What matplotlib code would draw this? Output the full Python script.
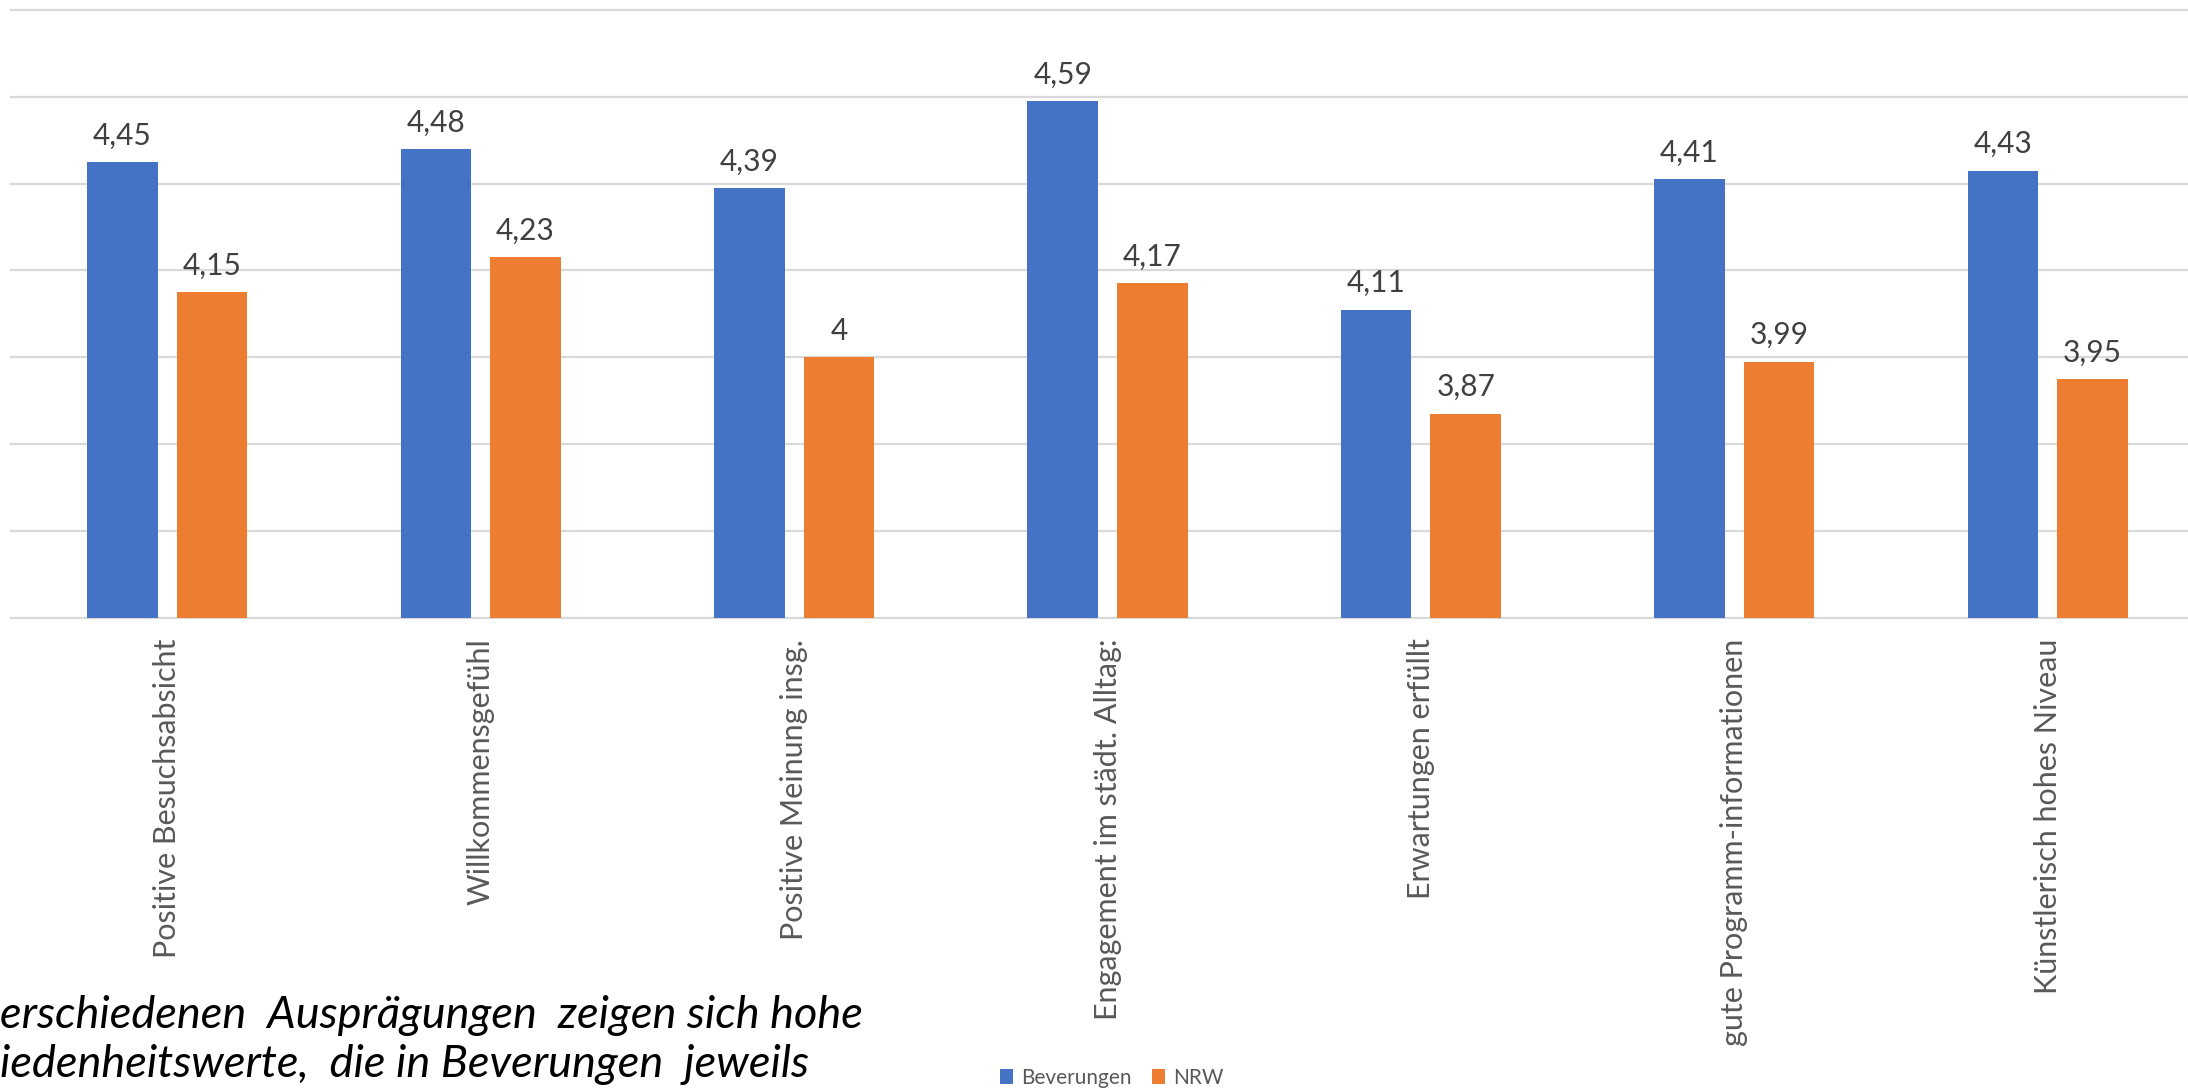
import numpy as np
import matplotlib
matplotlib.use("Agg")
import matplotlib.pyplot as plt

# --- data ---
categories = [
    "Positive Besuchsabsicht",
    "Willkommensgefühl",
    "Positive Meinung insg.",
    "Engagement im städt. Alltag:",
    "Erwartungen erfüllt",
    "gute Programm-informationen",
    "Künstlerisch hohes Niveau",
]
beverungen = [4.45, 4.48, 4.39, 4.59, 4.11, 4.41, 4.43]
nrw = [4.15, 4.23, 4.00, 4.17, 3.87, 3.99, 3.95]
series_names = ["Beverungen", "NRW"]

BLUE = "#4472C4"
ORANGE = "#ED7D31"
GRID = "#D9D9D9"

plt.rcParams["font.family"] = ["Lato", "DejaVu Sans"]

W, H = 2188, 1091
fig = plt.figure(figsize=(W / 100, H / 100), dpi=100)
ax = fig.add_axes([10.6 / W, 473.3 / H, 2193.8 / W, 607.7 / H])

x = np.arange(len(categories))
bw = 0.225
off = 0.143
b1 = ax.bar(x - off, beverungen, bw, color=BLUE, label=series_names[0], zorder=3)
b2 = ax.bar(x + off, nrw, bw, color=ORANGE, label=series_names[1], zorder=3)


def fmt(v):
    s = f"{v:.2f}".rstrip("0").rstrip(".")
    return s.replace(".", ",")


for bars, vals in ((b1, beverungen), (b2, nrw)):
    for rect, v in zip(bars, vals):
        ax.annotate(fmt(v), (rect.get_x() + rect.get_width() / 2, v),
                    xytext=(0, 9), textcoords="offset points",
                    ha="center", va="bottom", fontsize=21.5, color="#404040")

ax.set_xlim(-0.5, len(categories) - 0.5)
ax.set_ylim(3.4, 4.8)
ax.set_yticks(np.arange(3.4, 4.81, 0.2))
ax.yaxis.grid(True, color=GRID, linewidth=1.6, zorder=0)
for gl in ax.yaxis.get_gridlines():
    gl.set_clip_on(False)
ax.set_axisbelow(True)
ax.tick_params(axis="y", length=0, labelleft=False)
ax.set_xticks(x)
ax.set_xticklabels(categories, rotation=90, fontsize=22, color="#595959", va="top")
ax.tick_params(axis="x", length=0, pad=15)
for sp in ax.spines.values():
    sp.set_visible(False)

fig.legend(handles=[b1, b2], labels=series_names, loc="center",
           bbox_to_anchor=(1112 / W, 1 - 1078 / H), ncol=2, frameon=False,
           fontsize=15, labelcolor="#595959", handlelength=0.6, handleheight=0.7,
           handletextpad=0.4, columnspacing=1.0)

# overlaid slide text (cut off at the left and bottom edge)
fig.text(0, 1 - 1028 / H, "erschiedenen  Ausprägungen  zeigen sich hohe",
         fontsize=32.5, style="italic", color="black", ha="left", va="baseline")
fig.text(0, 1 - 1077 / H, "iedenheitswerte,  die in Beverungen  jeweils",
         fontsize=32.5, style="italic", color="black", ha="left", va="baseline")

fig.savefig("out.png", dpi=100, facecolor="white")
